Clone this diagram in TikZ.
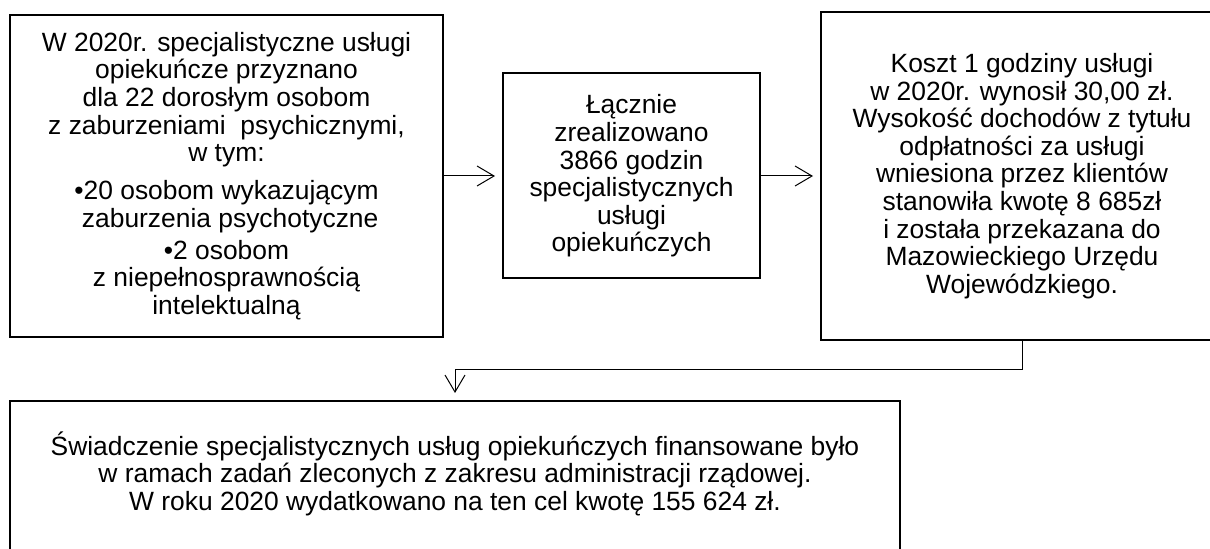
\documentclass[tikz,border=0pt]{standalone}
\usepackage{fontspec}
\setmainfont{Liberation Sans}
\usetikzlibrary{positioning,arrows.meta}
\begin{document}
\begin{tikzpicture}[x=0.5pt, y=-0.5pt,
        rect/.style={rectangle, draw=black, line width=1pt, align=center, inner sep=0pt, font=\fontsize{13.2}{13.8}\selectfont},
        arr/.style={-{Straight Barb[length=8.5pt,width=10pt]}, line width=0.5pt, shorten >=3.5pt}
    ]
    \useasboundingbox (0,0) rectangle (1210,549);
    \node[rect, minimum width=216.5pt, minimum height=161pt] (przyz) at (226.5,176) {
        W 2020r. specjalistyczne usługi\\
        opiekuńcze przyznano\\
        dla 22 dorosłym osobom\\
        z zaburzeniami\ \ psychicznymi,\\
        w tym:\\[5.2pt]
        •20 osobom wykazującym\\
        \ zaburzenia psychotyczne\\[2.2pt]
        •2 osobom\\
        z niepełnosprawnością\\
        intelektualną
    };
    \node[rect, minimum width=128.5pt, minimum height=102.5pt, right=29pt of przyz] (godz) {
        Łącznie\\
        zrealizowano\\
        3866 godzin\\
        specjalistycznych\\
        usługi\\
        opiekuńczych
    };
    \node[rect, minimum width=201pt, minimum height=164pt, right=29.5pt of godz] (koszt) {
        Koszt 1 godziny usługi\\
        w 2020r. wynosił 30,00 zł.\\
        Wysokość dochodów z tytułu\\
        odpłatności za usługi\\
        wniesiona przez klientów\\
        stanowiła kwotę 8 685zł\\
        i została przekazana do\\
        Mazowieckiego Urzędu\\
        Wojewódzkiego.
    };
    \node[rect, minimum width=445pt, minimum height=78pt, below right=31pt and 0pt of przyz.south west] (fin) {
        Świadczenie specjalistycznych usług opiekuńczych finansowane było\\
        w ramach zadań zleconych z zakresu administracji rządowej.\\
        W roku 2020 wydatkowano na ten cel kwotę 155 624 zł.\\[-5.8pt]
    };
    \draw[arr] (przyz) -- (godz);
    \draw[arr] (godz) -- (koszt);
    \draw[arr] (koszt.south) -- ++(0,29) -| (fin.north);
\end{tikzpicture}
\end{document}
